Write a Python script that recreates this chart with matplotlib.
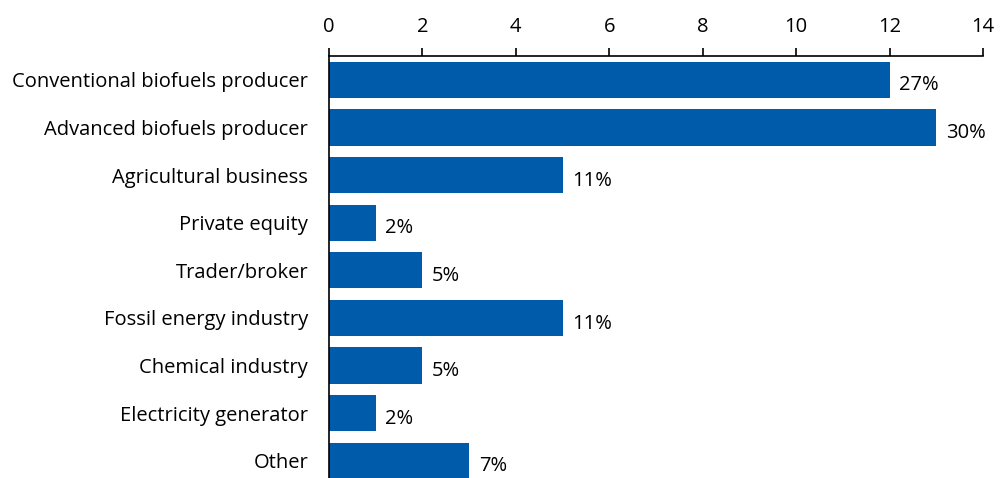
import matplotlib.pyplot as plt

# Respondents by type of organisation
categories = [
    "Conventional biofuels producer",
    "Advanced biofuels producer",
    "Agricultural business",
    "Private equity",
    "Trader/broker",
    "Fossil energy industry",
    "Chemical industry",
    "Electricity generator",
    "Other",
]
counts = [12, 13, 5, 1, 2, 5, 2, 1, 3]
shares = ["27%", "30%", "11%", "2%", "5%", "11%", "5%", "2%", "7%"]

plt.rcParams['font.family'] = ['Open Sans', 'DejaVu Sans']

fig = plt.figure(figsize=(10.04, 4.78), dpi=100)
ax = fig.add_axes([0.3277, 0.0, 0.979 - 0.3277, 1 - 56 / 478])

y = range(len(categories))
bars = ax.barh(y, counts, height=0.76, color="#005BAA")

for bar, lab in zip(bars, shares):
    ax.annotate(lab, xy=(bar.get_width(), bar.get_y() + bar.get_height() / 2),
                xytext=(7, -4), textcoords="offset points",
                ha="left", va="center", fontsize=14.5, color="black")

ax.set_xlim(0, 14)
ax.set_ylim(8.36, -0.5)
ax.set_xticks(range(0, 15, 2))
ax.set_yticks(list(y))
ax.set_yticklabels(categories)

ax.xaxis.tick_top()
ax.tick_params(axis="x", direction="out", length=6, width=1.2, labelsize=14.5, pad=8)
ax.tick_params(axis="y", length=0, labelsize=14.5, pad=15)

for side in ["right", "bottom"]:
    ax.spines[side].set_visible(False)
ax.spines["top"].set_linewidth(1.2)
ax.spines["left"].set_linewidth(1.2)

fig.savefig("out.png", dpi=100)
